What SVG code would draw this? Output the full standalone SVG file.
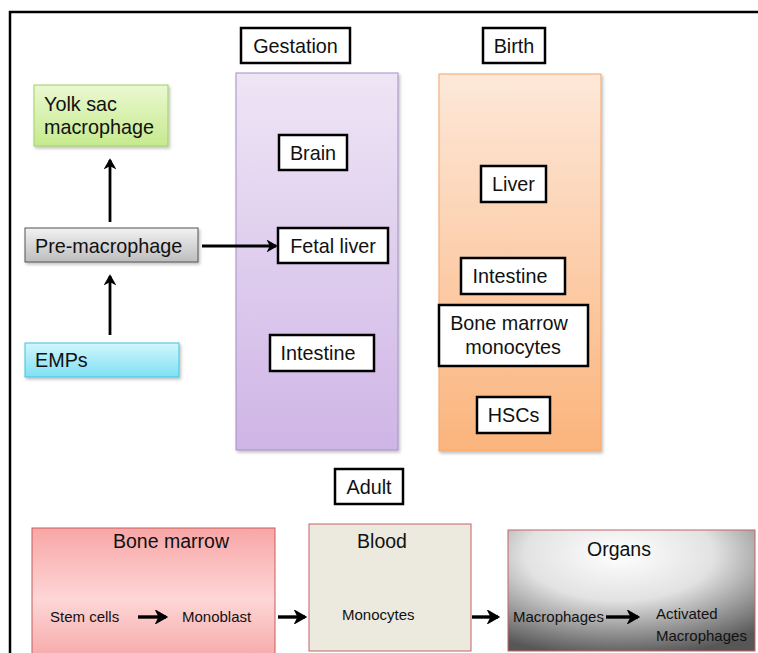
<svg xmlns="http://www.w3.org/2000/svg" width="758" height="653" viewBox="0 0 758 653">
<style>
text{font-family:"Liberation Sans",Arial,sans-serif;fill:#111}
.lbl{font-size:19.8px}
.sm{font-size:15px}
.hd{font-size:19.5px}
.wb{fill:#fff;stroke:#000;stroke-width:2.5}
.ar{stroke:#000;stroke-width:2.8;fill:none;marker-end:url(#ah)}
.ar2{stroke:#000;stroke-width:3.4;fill:none;marker-end:url(#ah)}
</style>
<defs>
<marker id="ah" viewBox="0 0 10 10" refX="8" refY="5" markerWidth="4.4" markerHeight="4.4" orient="auto" markerUnits="strokeWidth">
<path d="M1.5,1 L8.5,5 L1.5,9 L3.5,5 Z" fill="#000" stroke="#000" stroke-width="1" stroke-linejoin="miter"/>
</marker>
<linearGradient id="gPur" x1="0" y1="0" x2="0" y2="1"><stop offset="0" stop-color="#eee5f5"/><stop offset="1" stop-color="#cfb5e6"/></linearGradient>
<linearGradient id="gOr" x1="0" y1="0" x2="0" y2="1"><stop offset="0" stop-color="#fde8d9"/><stop offset="1" stop-color="#fbb47c"/></linearGradient>
<linearGradient id="gGr" x1="0" y1="0" x2="0" y2="1"><stop offset="0" stop-color="#eaf8d0"/><stop offset="1" stop-color="#c6ea8e"/></linearGradient>
<linearGradient id="gGy" x1="0" y1="0" x2="0" y2="1"><stop offset="0" stop-color="#f2f2f2"/><stop offset="1" stop-color="#bdbdbd"/></linearGradient>
<linearGradient id="gCy" x1="0" y1="0" x2="0" y2="1"><stop offset="0" stop-color="#d2f6fd"/><stop offset="1" stop-color="#7fe0f4"/></linearGradient>
<linearGradient id="gRd" x1="0" y1="0" x2="0" y2="1"><stop offset="0" stop-color="#f9a6a6"/><stop offset="0.55" stop-color="#fdd6d6"/><stop offset="1" stop-color="#f7a9a9"/></linearGradient>
<radialGradient id="gOg" cx="0.45" cy="0.2" r="0.85"><stop offset="0" stop-color="#ffffff"/><stop offset="0.45" stop-color="#e2e2e2"/><stop offset="1" stop-color="#575757"/></radialGradient>
<filter id="sh" x="-10%" y="-10%" width="125%" height="125%"><feDropShadow dx="1.5" dy="2" stdDeviation="1.5" flood-color="#000" flood-opacity="0.25"/></filter>
</defs>
<rect width="758" height="653" fill="#fff"/>
<path d="M10,660 L10,12 L770,12" fill="none" stroke="#000" stroke-width="2.5"/>

<g id="gestation-col">
<rect x="236" y="73" width="162" height="377" fill="url(#gPur)" stroke="#a58fc6" stroke-width="1" filter="url(#sh)"/>
</g>
<g id="birth-col">
<rect x="439" y="74" width="162" height="377" fill="url(#gOr)" stroke="#f4a66a" stroke-width="1" filter="url(#sh)"/>
</g>

<g id="gestation"><rect class="wb" x="241" y="28" width="109" height="35"/><text class="lbl" x="295.5" y="53" text-anchor="middle">Gestation</text></g>
<g id="birth"><rect class="wb" x="483" y="28" width="62" height="35"/><text class="lbl" x="514" y="53" text-anchor="middle">Birth</text></g>

<g id="yolk"><rect x="34" y="85" width="134" height="61" fill="url(#gGr)" stroke="#9fcf63" stroke-width="1" filter="url(#sh)"/><text class="lbl" x="44" y="111">Yolk sac</text><text class="lbl" x="44" y="134">macrophage</text></g>
<g id="premac"><rect x="25" y="228" width="173" height="34" fill="url(#gGy)" stroke="#555" stroke-width="1" filter="url(#sh)"/><text class="lbl" x="35" y="253">Pre-macrophage</text></g>
<g id="emps"><rect x="25" y="343" width="154" height="34" fill="url(#gCy)" stroke="#3fc4dc" stroke-width="1" filter="url(#sh)"/><text class="lbl" x="35" y="367">EMPs</text></g>

<g id="brain"><rect class="wb" x="279" y="135" width="68" height="35"/><text class="lbl" x="313" y="160" text-anchor="middle">Brain</text></g>
<g id="fetal-liver"><rect class="wb" x="278" y="228" width="110" height="35"/><text class="lbl" x="333" y="253" text-anchor="middle">Fetal liver</text></g>
<g id="intestine-g"><rect class="wb" x="270" y="335" width="104" height="36"/><text class="lbl" x="318" y="360" text-anchor="middle">Intestine</text></g>

<g id="liver"><rect class="wb" x="481" y="166" width="65" height="36"/><text class="lbl" x="513.5" y="191" text-anchor="middle">Liver</text></g>
<g id="intestine-b"><rect class="wb" x="461" y="258" width="104" height="36"/><text class="lbl" x="510" y="283" text-anchor="middle">Intestine</text></g>
<g id="bm-mono"><rect class="wb" x="439" y="305" width="149" height="61"/><text class="lbl" x="509" y="330" text-anchor="middle">Bone marrow</text><text class="lbl" x="513" y="354" text-anchor="middle">monocytes</text></g>
<g id="hscs"><rect class="wb" x="477" y="397" width="73" height="36"/><text class="lbl" x="513.5" y="422" text-anchor="middle">HSCs</text></g>

<g id="adult"><rect class="wb" x="335" y="469" width="68" height="35"/><text class="lbl" x="369" y="494" text-anchor="middle">Adult</text></g>

<g id="bone-marrow"><rect x="32" y="528" width="243" height="130" fill="url(#gRd)" stroke="#c45c5c" stroke-width="1"/><text class="hd" x="171" y="548" text-anchor="middle">Bone marrow</text><text class="sm" x="50" y="622">Stem cells</text><text class="sm" x="182" y="622">Monoblast</text></g>
<g id="blood"><rect x="309" y="524" width="162" height="127" fill="#ece9df" stroke="#c46262" stroke-width="1"/><text class="hd" x="382" y="548" text-anchor="middle">Blood</text><text class="sm" x="342" y="620">Monocytes</text></g>
<g id="organs"><rect x="508" y="530" width="247" height="121" fill="url(#gOg)" stroke="#c46262" stroke-width="1"/><text class="hd" x="619" y="556" text-anchor="middle">Organs</text><text class="sm" x="513" y="622">Macrophages</text><text class="sm" x="656" y="619">Activated</text><text class="sm" x="656" y="641">Macrophages</text></g>

<g id="connectors">
<line class="ar" x1="110" y1="222" x2="110" y2="160"/>
<line class="ar" x1="110" y1="335" x2="110" y2="276"/>
<line class="ar" x1="202" y1="246" x2="276" y2="246"/>
<line class="ar2" x1="138" y1="617" x2="166" y2="617"/>
<line class="ar2" x1="278" y1="617" x2="305" y2="617"/>
<line class="ar2" x1="472" y1="617" x2="498" y2="617"/>
<line class="ar2" x1="606" y1="617" x2="638" y2="617"/>
</g>
</svg>
